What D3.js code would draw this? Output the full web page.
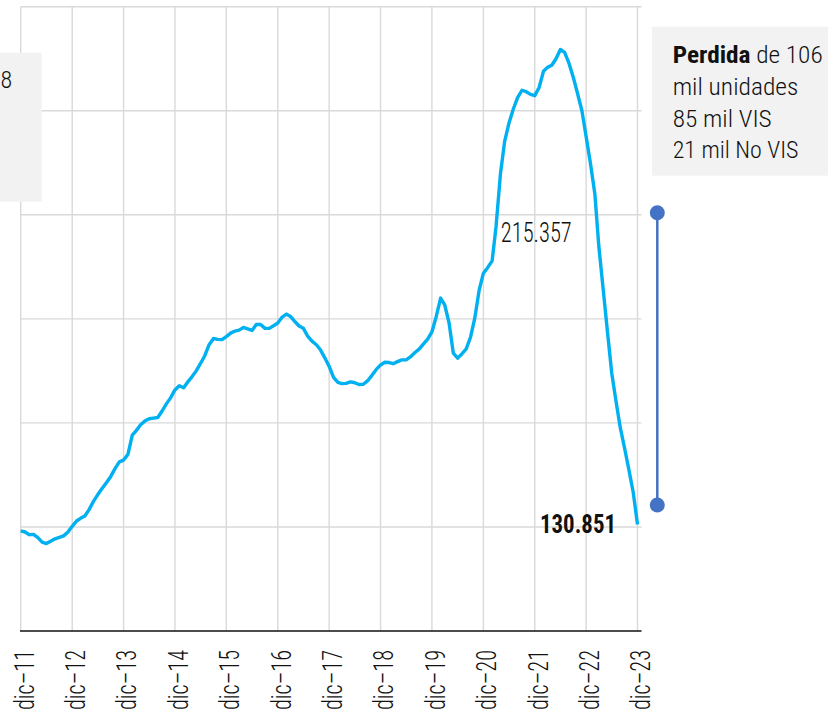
<!DOCTYPE html>
<html>
<head>
<meta charset="utf-8">
<script src="https://cdn.jsdelivr.net/npm/d3@7"></script>
<style>
  body { margin: 0; background: #fff; }
  text { font-family: "Liberation Sans Narrow", "Roboto Condensed", Roboto, sans-serif; fill: #111; font-weight: 300; }
</style>
</head>
<body>
<svg id="chart" width="828" height="715"></svg>
<script>
// ventas anuales (miles de unidades), mensual desde dic-11
const inicio = '2011-12'
const valores = [
  128.7, 128.3, 127.4, 127.5, 126.4, 124.9, 124.4, 125.2, 126.0, 126.5, 127.0, 128.3,
  130.2, 132.0, 133.0, 133.7, 135.9, 138.6, 140.9, 142.9, 144.9, 147.0, 149.6, 151.9,
  152.5, 154.4, 160.9, 162.4, 164.4, 165.6, 166.4, 166.6, 166.8, 169.0, 171.4, 173.5,
  176.1, 177.5, 176.8, 178.7, 180.5, 182.5, 185.0, 187.6, 191.3, 193.4, 193.1, 193.0,
  194.0, 195.2, 195.9, 196.2, 197.1, 196.6, 196.1, 198.1, 198.1, 196.8, 196.8, 197.7,
  198.6, 200.6, 201.6, 200.8, 199.1, 197.6, 196.8, 194.2, 192.5, 191.3, 189.5, 186.8,
  184.0, 180.3, 178.6, 178.2, 178.3, 178.8, 178.5, 177.9, 178.0, 179.2, 181.0, 183.0,
  184.5, 185.4, 185.3, 184.9, 185.6, 186.2, 186.2, 187.2, 188.6, 189.8, 191.5, 193.2,
  195.6, 200.8, 207.0, 204.7, 198.6, 188.5, 186.8, 188.2, 189.9, 193.9, 200.3, 209.7,
  215.357, 217.3, 219.5, 231.1, 248.7, 259.7, 265.9, 270.5, 274.4, 276.9, 276.4, 275.5,
  275.1, 277.8, 283.3, 284.6, 285.3, 287.5, 290.6, 289.6, 286.0, 281.2, 275.8, 270.0,
  261.3, 252.2, 242.0, 224.5, 210.0, 195.9, 181.7, 172.4, 163.3, 156.3, 149.2, 141.5,
  130.851
]
const etiquetas = ['dic\u201311', 'dic\u201312', 'dic\u201313', 'dic\u201314', 'dic\u201315', 'dic\u201316', 'dic\u201317',
  'dic\u201318', 'dic\u201319', 'dic\u201320', 'dic\u201321', 'dic\u201322', 'dic\u201323']
const lineasY = [95, 130, 165, 200, 235, 270, 305]
const destacado = { mes: '2020-12', valor: 215.357, texto: '215.357' }
const final = { mes: '2023-12', valor: 130.851, texto: '130.851' }
const perdida = [137.4, 235.7]
const notaDerecha = ['mil unidades', '85 mil VIS', '21 mil No VIS']

const svg = d3.select('#chart')
const parse = d3.timeParse('%Y-%m')
const t0 = parse(inicio)
const datos = valores.map((v, i) => ({ fecha: d3.timeMonth.offset(t0, i), v: v }))
const fechasTick = etiquetas.map((e, i) => d3.timeYear.offset(t0, i))

const x = d3.scaleTime().domain([t0, fechasTick[fechasTick.length - 1]]).range([20.7, 637.5])
const y = d3.scaleLinear().domain([95, 305]).range([631, 6.7])
const right = 641.5

// grilla
const grid = svg.append('g').attr('stroke', '#d9d9d9').attr('stroke-width', 1.4)
grid.selectAll('.h').data(lineasY.slice(1)).enter().append('line')
  .attr('x1', 20.7).attr('x2', right)
  .attr('y1', d => y(d)).attr('y2', d => y(d))
grid.selectAll('.v').data(fechasTick).enter().append('line')
  .attr('x1', d => x(d)).attr('x2', d => x(d))
  .attr('y1', y(305)).attr('y2', y(95))

// eje
svg.append('line')
  .attr('x1', 20).attr('x2', right)
  .attr('y1', y(95)).attr('y2', y(95))
  .attr('stroke', '#111').attr('stroke-width', 1.3)

svg.append('g').selectAll('text').data(fechasTick).enter().append('text')
  .attr('transform', d => 'translate(' + (x(d) + 12.8) + ',650) rotate(-90)')
  .attr('text-anchor', 'end')
  .attr('font-size', 28)
  .attr('textLength', 60).attr('lengthAdjust', 'spacingAndGlyphs')
  .text((d, i) => etiquetas[i])

// serie
const line = d3.line().x(d => x(d.fecha)).y(d => y(d.v))
svg.append('path').datum(datos)
  .attr('d', line)
  .attr('fill', 'none')
  .attr('stroke', '#00b0f0')
  .attr('stroke-width', 3.4)
  .attr('stroke-linejoin', 'round')

// etiquetas de valores
svg.append('text')
  .attr('x', x(parse(destacado.mes)) + 17.4)
  .attr('y', y(destacado.valor) - 31)
  .attr('font-size', 27)
  .attr('textLength', 71).attr('lengthAdjust', 'spacingAndGlyphs')
  .text(destacado.texto)

svg.append('text')
  .attr('x', x(parse(final.mes)) - 97.5)
  .attr('y', y(final.valor) + 9)
  .attr('font-size', 25).style('font-weight', 'bold')
  .attr('textLength', 76).attr('lengthAdjust', 'spacingAndGlyphs')
  .text(final.texto)

// barra de perdida
const bx = 657.3
svg.append('line')
  .attr('x1', bx).attr('x2', bx)
  .attr('y1', y(perdida[0])).attr('y2', y(perdida[1]))
  .attr('stroke', '#4472c4').attr('stroke-width', 2.5)
svg.selectAll('.dot').data(perdida).enter().append('circle')
  .attr('cx', bx).attr('cy', d => y(d)).attr('r', 7.5)
  .attr('fill', '#4472c4')

// notas
svg.append('rect').attr('x', 0).attr('y', 52.7).attr('width', 41.7).attr('height', 149).attr('fill', '#f2f2f2')
svg.append('text').attr('x', 0.5).attr('y', 88.3).attr('font-size', 24).text('8')

svg.append('rect').attr('x', 652).attr('y', 26.7).attr('width', 176).attr('height', 149).attr('fill', '#f2f2f2')
const t1 = svg.append('text').attr('x', 672.7).attr('y', 62.7).attr('font-size', 24)
  .attr('textLength', 150).attr('lengthAdjust', 'spacingAndGlyphs')
t1.append('tspan').style('font-weight', 'bold').text('Perdida')
t1.append('tspan').text(' de 106')
const largos = [125.7, 99, 125.7]
svg.selectAll('.nota').data(notaDerecha).enter().append('text')
  .attr('x', 672.7).attr('y', (d, i) => 95 + i * 31.7)
  .attr('font-size', 24)
  .attr('textLength', (d, i) => largos[i]).attr('lengthAdjust', 'spacingAndGlyphs')
  .text(d => d)
</script>
</body>
</html>
